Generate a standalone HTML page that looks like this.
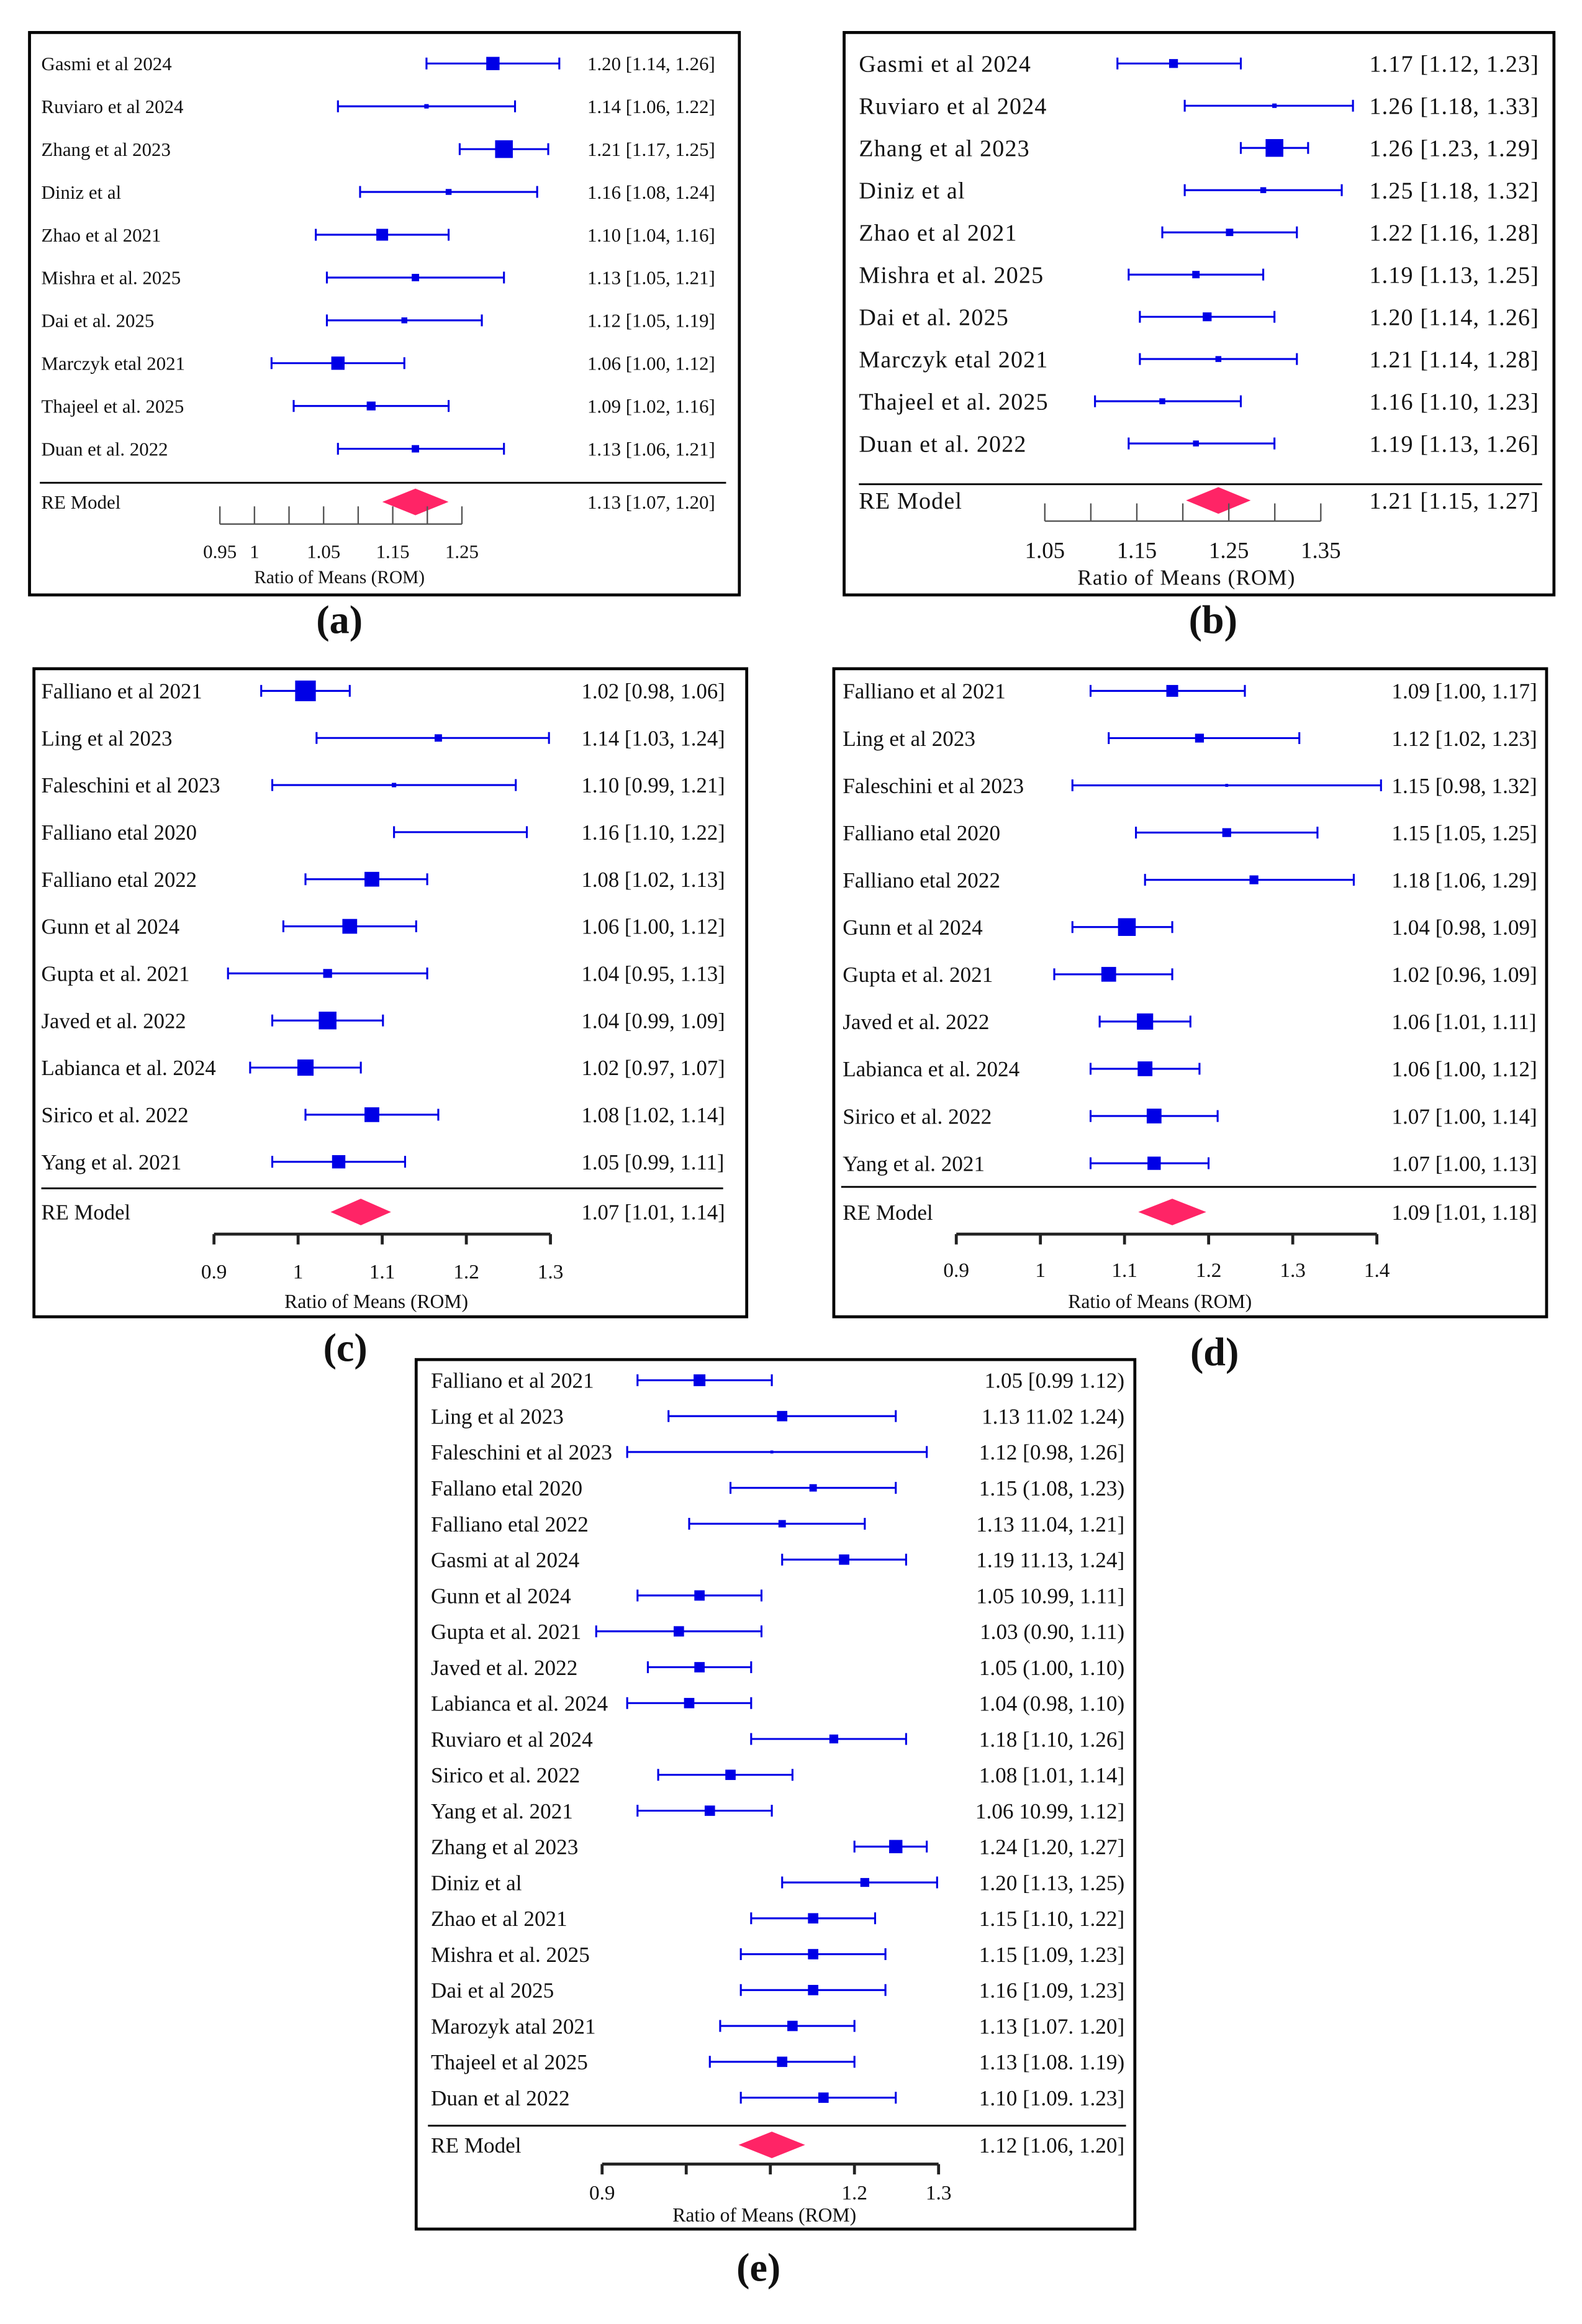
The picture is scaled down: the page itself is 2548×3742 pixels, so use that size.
<!DOCTYPE html>
<html><head><meta charset="utf-8"><style>
html,body{margin:0;padding:0;background:#fff}
svg{display:block}
text{font-family:"Liberation Serif",serif;fill:#111}
</style></head><body>
<svg id="fig" width="2548" height="3742" viewBox="0 0 1072 1574.3" xmlns="http://www.w3.org/2000/svg"></svg>
<script>
// ---------- Panel (a) data ----------
const aStudies=["Gasmi et al 2024","Ruviaro et al 2024","Zhang et al 2023","Diniz et al","Zhao et al 2021","Mishra et al. 2025","Dai et al. 2025","Marczyk etal 2021","Thajeel et al. 2025","Duan et al. 2022"];
const aEst=[1.20,1.14,1.21,1.16,1.10,1.13,1.12,1.06,1.09,1.13];
const aLo=[1.14,1.06,1.17,1.08,1.04,1.05,1.05,1.00,1.02,1.06];
const aHi=[1.26,1.22,1.25,1.24,1.16,1.21,1.19,1.12,1.16,1.21];
const aWt=[9,3,12,4,8,5,4,9,6,5];
const aText=["1.20 [1.14, 1.26]","1.14 [1.06, 1.22]","1.21 [1.17, 1.25]","1.16 [1.08, 1.24]","1.10 [1.04, 1.16]","1.13 [1.05, 1.21]","1.12 [1.05, 1.19]","1.06 [1.00, 1.12]","1.09 [1.02, 1.16]","1.13 [1.06, 1.21]"];
const aRE=[1.13,1.07,1.20]; const aREText="1.13 [1.07, 1.20]";
const aTicks=["0.95","1","","1.05","","1.15","","1.25"];
// ---------- Panel (b) data ----------
const bStudies=["Gasmi et al 2024","Ruviaro et al 2024","Zhang et al 2023","Diniz et al","Zhao et al 2021","Mishra et al. 2025","Dai et al. 2025","Marczyk etal 2021","Thajeel et al. 2025","Duan et al. 2022"];
const bEst=[1.17,1.26,1.26,1.25,1.22,1.19,1.20,1.21,1.16,1.19];
const bLo=[1.12,1.18,1.23,1.18,1.16,1.13,1.14,1.14,1.10,1.13];
const bHi=[1.23,1.33,1.29,1.32,1.28,1.25,1.26,1.28,1.23,1.26];
const bWt=[6,3,12,4,5,5,6,4,4,4];
const bText=["1.17 [1.12, 1.23]","1.26 [1.18, 1.33]","1.26 [1.23, 1.29]","1.25 [1.18, 1.32]","1.22 [1.16, 1.28]","1.19 [1.13, 1.25]","1.20 [1.14, 1.26]","1.21 [1.14, 1.28]","1.16 [1.10, 1.23]","1.19 [1.13, 1.26]"];
const bRE=[1.21,1.15,1.27]; const bREText="1.21 [1.15, 1.27]";
const bTicks=["1.05","","1.15","","1.25","","1.35"];
// ---------- Panel (c) data ----------
const cStudies=["Falliano et al 2021","Ling et al 2023","Faleschini et al 2023","Falliano etal 2020","Falliano etal 2022","Gunn et al 2024","Gupta et al. 2021","Javed et al. 2022","Labianca et al. 2024","Sirico et al. 2022","Yang et al. 2021"];
const cEst=[1.02,1.14,1.10,1.16,1.08,1.06,1.04,1.04,1.02,1.08,1.05];
const cLo=[0.98,1.03,0.99,1.10,1.02,1.00,0.95,0.99,0.97,1.02,0.99];
const cHi=[1.06,1.24,1.21,1.22,1.13,1.12,1.13,1.09,1.07,1.14,1.11];
const cWt=[14,5,3,0,10,10,6,12,11,10,9];
const cText=["1.02 [0.98, 1.06]","1.14 [1.03, 1.24]","1.10 [0.99, 1.21]","1.16 [1.10, 1.22]","1.08 [1.02, 1.13]","1.06 [1.00, 1.12]","1.04 [0.95, 1.13]","1.04 [0.99, 1.09]","1.02 [0.97, 1.07]","1.08 [1.02, 1.14]","1.05 [0.99, 1.11]"];
const cRE=[1.07,1.01,1.14]; const cREText="1.07 [1.01, 1.14]";
const cTicks=["0.9","1","1.1","1.2","1.3"];
// ---------- Panel (d) data ----------
const dStudies=["Falliano et al 2021","Ling et al 2023","Faleschini et al 2023","Falliano etal 2020","Falliano etal 2022","Gunn et al 2024","Gupta et al. 2021","Javed et al. 2022","Labianca et al. 2024","Sirico et al. 2022","Yang et al. 2021"];
const dEst=[1.09,1.12,1.15,1.15,1.18,1.04,1.02,1.06,1.06,1.07,1.07];
const dLo=[1.00,1.02,0.98,1.05,1.06,0.98,0.96,1.01,1.00,1.00,1.00];
const dHi=[1.17,1.23,1.32,1.25,1.29,1.09,1.09,1.11,1.12,1.14,1.13];
const dWt=[8,6,2,6,6,12,10,11,10,10,9];
const dText=["1.09 [1.00, 1.17]","1.12 [1.02, 1.23]","1.15 [0.98, 1.32]","1.15 [1.05, 1.25]","1.18 [1.06, 1.29]","1.04 [0.98, 1.09]","1.02 [0.96, 1.09]","1.06 [1.01, 1.11]","1.06 [1.00, 1.12]","1.07 [1.00, 1.14]","1.07 [1.00, 1.13]"];
const dRE=[1.09,1.01,1.18]; const dREText="1.09 [1.01, 1.18]";
const dTicks=["0.9","1","1.1","1.2","1.3","1.4"];
// ---------- Panel (e) data ----------
const eStudies=["Falliano et al 2021","Ling et al 2023","Faleschini et al 2023","Fallano etal 2020","Falliano etal 2022","Gasmi at al 2024","Gunn et al 2024","Gupta et al. 2021","Javed et al. 2022","Labianca et al. 2024","Ruviaro et al 2024","Sirico et al. 2022","Yang et al. 2021","Zhang et al 2023","Diniz et al","Zhao et al 2021","Mishra et al. 2025","Dai et al 2025","Marozyk atal 2021","Thajeel et al 2025","Duan et al 2022"];
const eEst=[1.05,1.13,1.12,1.16,1.13,1.19,1.05,1.03,1.05,1.04,1.18,1.08,1.06,1.24,1.21,1.16,1.16,1.16,1.14,1.13,1.17];
const eLo=[0.99,1.02,0.98,1.08,1.04,1.13,0.99,0.95,1.00,0.98,1.10,1.01,0.99,1.20,1.13,1.10,1.09,1.09,1.07,1.06,1.09];
const eHi=[1.12,1.24,1.27,1.24,1.21,1.25,1.11,1.11,1.10,1.10,1.25,1.14,1.12,1.27,1.28,1.22,1.23,1.23,1.20,1.20,1.24];
const eWt=[8,7,2,5,5,7,7,7,7,7,6,7,7,9,6,7,7,7,7,7,7];
const eText=["1.05 [0.99 1.12)","1.13 11.02 1.24)","1.12 [0.98, 1.26]","1.15 (1.08, 1.23)","1.13 11.04, 1.21]","1.19 11.13, 1.24]","1.05 10.99, 1.11]","1.03 (0.90, 1.11)","1.05 (1.00, 1.10)","1.04 (0.98, 1.10)","1.18 [1.10, 1.26]","1.08 [1.01, 1.14]","1.06 10.99, 1.12]","1.24 [1.20, 1.27]","1.20 [1.13, 1.25)","1.15 [1.10, 1.22]","1.15 [1.09, 1.23]","1.16 [1.09, 1.23]","1.13 [1.07. 1.20]","1.13 [1.08. 1.19)","1.10 [1.09. 1.23]"];
const eRE=[1.12,1.06,1.20]; const eREText="1.12 [1.06, 1.20]";
const eTicks=["0.9","","","1.2","1.3"];

const NS="http://www.w3.org/2000/svg";
const svg=document.getElementById('fig');
const BLUE="#0000e6";
function mk(tag,attrs,parent,txt){const e=document.createElementNS(NS,tag);for(const k in attrs)e.setAttribute(k,attrs[k]);if(txt!==undefined)e.textContent=txt;(parent||svg).appendChild(e);return e;}

function panel(P,studies,est,lo,hi,wt,text,re,reText,ticks){
  const g=mk('g',{});
  
  
  const xs=v=>P.x1v+(v-1)*P.k;
  const ys=i=>P.row0+i*P.step;
  const box=mk('rect',{x:P.bx0,y:P.by0,width:P.bx1-P.bx0,height:P.by1-P.by0,fill:'none',stroke:'#000','stroke-width':2},g);
  
  
  const ls=P.lsp||0;
  for(let i=0;i<studies.length;i++){
    const y=ys(i);
    const row=mk('g',{},g);
    
    
    const lt=mk('text',{x:P.lx,y:y+P.fs*0.35,'font-size':P.fs,'letter-spacing':ls},row,studies[i]);
    
    
    const vt=mk('text',{x:P.vx,y:y+P.fs*0.35,'font-size':P.fs,'text-anchor':P.va,'letter-spacing':ls},row,text[i]);
    
    
    const x0=xs(lo[i]),x1=xs(hi[i]);
    const ci=mk('path',{d:`M${x0},${y}H${x1}M${x0},${y-4}V${y+4}M${x1},${y-4}V${y+4}`,stroke:BLUE,'stroke-width':1.3,fill:'none'},row);
    
    
    const s=wt[i];
    if(wt[i]>0){
      const sq=mk('rect',{x:xs(est[i])-s/2,y:y-s/2,width:s,height:s,fill:BLUE},row);
      
      
    }
  }
  const sep=mk('line',{x1:P.sx0,x2:P.sx1,y1:P.sepY,y2:P.sepY,stroke:'#000','stroke-width':1.2},g);
  
  
  const rl=mk('text',{x:P.lx,y:P.reY+P.fs*0.35,'font-size':P.fs,'letter-spacing':ls},g,'RE Model');
  
  
  const rv=mk('text',{x:P.vx,y:P.reY+P.fs*0.35,'font-size':P.fs,'text-anchor':P.va,'letter-spacing':ls},g,reText);
  
  
  const c=xs(re[0]),hw=(xs(re[2])-xs(re[1]))/2*P.dk;
  const dm=mk('polygon',{points:`${c-hw},${P.reY} ${c},${P.reY-9} ${c+hw},${P.reY} ${c},${P.reY+9}`,fill:'#ff2466'},g);
  
  
  const ax=mk('g',{},g);
  
  
  mk('line',{x1:P.ax0,x2:P.ax1,y1:P.ay,y2:P.ay,stroke:P.astroke,'stroke-width':P.aw},ax);
  const n=ticks.length;
  for(let i=0;i<n;i++){
    const x=P.ax0+(P.ax1-P.ax0)*i/(n-1);
    const tk=mk('line',{x1:x,x2:x,y1:P.ay,y2:P.ay+P.tl,stroke:P.astroke,'stroke-width':P.aw},ax);
    
    
    if(ticks[i]){
      const tt=mk('text',{x:x,y:P.tly,'font-size':P.afs,'text-anchor':'middle'},ax,ticks[i]);
      
      
    }
  }
  const at=mk('text',{x:P.atx,y:P.aty,'font-size':P.afs*0.95,'text-anchor':'middle','letter-spacing':ls},g,'Ratio of Means (ROM)');
  
  
  const pl=mk('text',{x:P.plx,y:P.ply,'font-size':27,'font-weight':'bold','text-anchor':'middle'},g,'('+P.id+')');
  
  
}

panel({id:'a',bx0:20,by0:22,bx1:501,by1:403,lx:28,vx:398,va:'start',row0:43,step:29,fs:13,x1v:184,k:750,dk:0.46,
  sx0:27,sx1:492,sepY:327,reY:340,ax0:149,ax1:313,ay:355,tl:-12,astroke:'#555',aw:1,tly:378,afs:13,atx:230,aty:395,plx:230,ply:429},
  aStudies,aEst,aLo,aHi,aWt,aText,aRE,aREText,aTicks);
panel({id:'b',bx0:572,by0:22,bx1:1053,by1:403,lx:582,vx:1043,va:'end',row0:43,step:28.6,fs:16,lsp:0.5,x1v:666,k:760,dk:0.48,
  sx0:582,sx1:1045,sepY:328,reY:339,ax0:708,ax1:895,ay:353,tl:-12,astroke:'#555',aw:1,tly:378,afs:15.5,atx:804,aty:396,plx:822,ply:429},
  bStudies,bEst,bLo,bHi,bWt,bText,bRE,bREText,bTicks);
panel({id:'c',bx0:23,by0:453,bx1:506,by1:892,lx:28,vx:394,va:'start',row0:468,step:31.9,fs:14.6,x1v:192,k:750,dk:0.42,
  sx0:28,sx1:490,sepY:805,reY:821,ax0:145,ax1:373,ay:836,tl:7,astroke:'#222',aw:2,tly:866,afs:14,atx:255,aty:886,plx:234,ply:922},
  cStudies,cEst,cLo,cHi,cWt,cText,cRE,cREText,cTicks);
panel({id:'d',bx0:565,by0:453,bx1:1048,by1:892,lx:571,vx:943,va:'start',row0:468,step:32,fs:14.8,x1v:739,k:615,dk:0.44,
  sx0:570,sx1:1041,sepY:804,reY:821,ax0:648,ax1:933,ay:836,tl:7,astroke:'#222',aw:2,tly:865,afs:14,atx:786,aty:886,plx:823,ply:925},
  dStudies,dEst,dLo,dHi,dWt,dText,dRE,dREText,dTicks);
panel({id:'e',bx0:282,by0:921,bx1:769,by1:1510,lx:292,vx:762,va:'end',row0:935,step:24.3,fs:14.8,x1v:439,k:700,dk:0.46,
  sx0:290,sx1:763,sepY:1440,reY:1453,ax0:408,ax1:636,ay:1466,tl:7,astroke:'#222',aw:2,tly:1490,afs:14,atx:518,aty:1505,plx:514,ply:1545},
  eStudies,eEst,eLo,eHi,eWt,eText,eRE,eREText,eTicks);
</script>
</body></html>
